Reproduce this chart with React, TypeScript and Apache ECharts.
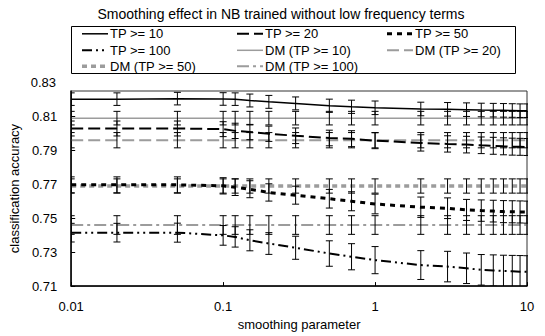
import React, { useEffect, useRef } from "react";
import * as echarts from "echarts";

const titleText = "Smoothing effect in NB trained without low frequency terms";
const xName = "smoothing parameter";
const yName = "classification accuracy";

const xs = [0.01, 0.02, 0.05, 0.1, 0.12, 0.15, 0.2, 0.3, 0.5, 0.7, 1, 2, 3, 4, 5, 6, 7, 8, 9, 10];
const xTicks = ["0.01", "0.1", "1", "10"];
const yTicks = ["0.71", "0.73", "0.75", "0.77", "0.79", "0.81", "0.83"];

const tp10 = [0.8202, 0.8202, 0.8205, 0.8203, 0.8202, 0.8194, 0.8186, 0.8177, 0.8163, 0.8157, 0.8151, 0.8144, 0.8142, 0.814, 0.8138, 0.8137, 0.8136, 0.8135, 0.8134, 0.8134];
const tp20 = [0.8029, 0.8029, 0.8029, 0.8025, 0.8015, 0.8008, 0.7998, 0.7986, 0.7973, 0.7969, 0.7957, 0.7944, 0.7938, 0.7934, 0.793, 0.7927, 0.7924, 0.7922, 0.7921, 0.792];
const tp50 = [0.7697, 0.7697, 0.7697, 0.7691, 0.7683, 0.7671, 0.7652, 0.7636, 0.7615, 0.76, 0.7584, 0.7565, 0.7559, 0.7549, 0.7545, 0.7542, 0.7539, 0.7538, 0.7537, 0.7536];
const tp100 = [0.7415, 0.7415, 0.7415, 0.7399, 0.739, 0.737, 0.7351, 0.7326, 0.7292, 0.7273, 0.7253, 0.7224, 0.7215, 0.7205, 0.7196, 0.7192, 0.7189, 0.7187, 0.7185, 0.7184];
const dm10 = [0.809, 0.809, 0.809, 0.809, 0.809, 0.809, 0.809, 0.809, 0.809, 0.809, 0.809, 0.809, 0.809, 0.809, 0.809, 0.809, 0.809, 0.809, 0.809, 0.809];
const dm20 = [0.796, 0.796, 0.796, 0.796, 0.796, 0.796, 0.796, 0.796, 0.796, 0.796, 0.796, 0.796, 0.796, 0.796, 0.796, 0.796, 0.796, 0.796, 0.796, 0.796];
const dm50 = [0.769, 0.769, 0.769, 0.769, 0.769, 0.769, 0.769, 0.769, 0.769, 0.769, 0.769, 0.769, 0.769, 0.769, 0.769, 0.769, 0.769, 0.769, 0.769, 0.769];
const dm100 = [0.746, 0.746, 0.746, 0.746, 0.746, 0.746, 0.746, 0.746, 0.746, 0.746, 0.746, 0.746, 0.746, 0.746, 0.746, 0.746, 0.746, 0.746, 0.746, 0.746];

const tp10Err = [0.0037, 0.0037, 0.0037, 0.0037, 0.0037, 0.0038, 0.0038, 0.0038, 0.0039, 0.0039, 0.004, 0.004, 0.004, 0.004, 0.004, 0.004, 0.004, 0.004, 0.004, 0.004];
const tp20Err = [0.0044, 0.0044, 0.0044, 0.0044, 0.0045, 0.0045, 0.0045, 0.0046, 0.0046, 0.0047, 0.0047, 0.0048, 0.0048, 0.0049, 0.0049, 0.005, 0.005, 0.005, 0.005, 0.005];
const tp50Err = [0.0047, 0.0047, 0.0047, 0.0048, 0.0049, 0.005, 0.0051, 0.0053, 0.0055, 0.0056, 0.0058, 0.006, 0.0061, 0.0062, 0.0063, 0.0064, 0.0065, 0.0065, 0.0065, 0.0065];
const tp100Err = [0.0055, 0.0055, 0.0056, 0.0058, 0.006, 0.0062, 0.0064, 0.0068, 0.0075, 0.0077, 0.008, 0.0085, 0.009, 0.009, 0.009, 0.0092, 0.0093, 0.0094, 0.0095, 0.0095];
const dm10Err = [0.004, 0.004, 0.004, 0.004, 0.004, 0.004, 0.004, 0.004, 0.004, 0.004, 0.004, 0.004, 0.004, 0.004, 0.004, 0.004, 0.004, 0.004, 0.004, 0.004];
const dm20Err = [0.0045, 0.0045, 0.0045, 0.0045, 0.0045, 0.0045, 0.0045, 0.0045, 0.0045, 0.0045, 0.0045, 0.0045, 0.0045, 0.0045, 0.0045, 0.0045, 0.0045, 0.0045, 0.0045, 0.0045];
const dm50Err = [0.0042, 0.0042, 0.0042, 0.0042, 0.0042, 0.0042, 0.0042, 0.0042, 0.0042, 0.0042, 0.0042, 0.0042, 0.0042, 0.0042, 0.0042, 0.0042, 0.0042, 0.0042, 0.0042, 0.0042];
const dm100Err = [0.0055, 0.0055, 0.0055, 0.0055, 0.0055, 0.0055, 0.0055, 0.0055, 0.0055, 0.0055, 0.0055, 0.0055, 0.0055, 0.0055, 0.0055, 0.0055, 0.0055, 0.0055, 0.0055, 0.0055];

const names = ["TP >= 10", "TP >= 20", "TP >= 50", "TP >= 100", "DM (TP >= 10)", "DM (TP >= 20)", "DM (TP >= 50)", "DM (TP >= 100)"];
// legend reading order: three columns, filled row by row
const legendOrder = ["TP >= 10", "TP >= 20", "TP >= 50", "TP >= 100", "DM (TP >= 10)", "DM (TP >= 20)", "DM (TP >= 50)", "DM (TP >= 100)"];

const FONT = "'Liberation Sans', Arial, sans-serif";
const BLACK = "#000000";
const GRAY = "#9c9c9c";

export default function App() {
  const ref = useRef<HTMLDivElement>(null);
  useEffect(() => {
    if (!ref.current) return;
    const chart = echarts.init(ref.current, undefined, { renderer: "svg" });

    const values = [tp10, tp20, tp50, tp100, dm10, dm20, dm50, dm100];
    const errs = [tp10Err, tp20Err, tp50Err, tp100Err, dm10Err, dm20Err, dm50Err, dm100Err];
    const styles: { color: string; width: number; dash: number[] | null }[] = [
      { color: BLACK, width: 1.5, dash: null },
      { color: BLACK, width: 2, dash: [12, 5] },
      { color: BLACK, width: 3, dash: [5, 5] },
      { color: BLACK, width: 2, dash: [10, 4, 2, 4, 2, 4] },
      { color: GRAY, width: 1.5, dash: null },
      { color: GRAY, width: 2, dash: [12, 5] },
      { color: GRAY, width: 3.5, dash: [5, 4] },
      { color: GRAY, width: 2, dash: [12, 4, 3, 4] },
    ];

    const lineSeries = names.map((n, k) => ({
      name: n,
      type: "line",
      data: xs.map((x, i) => [x, values[k][i]]),
      symbol: "none",
      silent: true,
      color: styles[k].color,
      lineStyle: {
        color: styles[k].color,
        width: styles[k].width,
        type: styles[k].dash ? (styles[k].dash as any) : "solid",
      },
      z: k < 4 ? 4 : 3,
    }));

    const errSeries = names.map((n, k) => ({
      name: n + " err",
      type: "custom",
      silent: true,
      clip: true,
      z: 5,
      data: xs.map((x, i) => [x, values[k][i] - errs[k][i], values[k][i] + errs[k][i]]),
      encode: { x: 0, y: [1, 2] },
      renderItem: (params: any, api: any) => {
        const x = api.value(0);
        const p1 = api.coord([x, api.value(1)]);
        const p2 = api.coord([x, api.value(2)]);
        const w = 3.5;
        const st = { stroke: BLACK, lineWidth: 1 };
        return {
          type: "group",
          children: [
            { type: "line", shape: { x1: p1[0], y1: p1[1], x2: p2[0], y2: p2[1] }, style: st },
            { type: "line", shape: { x1: p1[0] - w, y1: p1[1], x2: p1[0] + w, y2: p1[1] }, style: st },
            { type: "line", shape: { x1: p2[0] - w, y1: p2[1], x2: p2[0] + w, y2: p2[1] }, style: st },
          ],
        };
      },
    }));

    // legend drawn as graphic elements (3 columns x 3 rows)
    const colX = [82, 237, 387];
    const rowY = [33.8, 50.3, 66.2];
    const legendEls: any[] = [];
    legendOrder.forEach((n, idx) => {
      const k = names.indexOf(n);
      const c = idx % 3;
      const r = Math.floor(idx / 3);
      const x0 = colX[c];
      const y0 = rowY[r];
      legendEls.push({
        type: "line",
        silent: true,
        shape: { x1: x0, y1: y0, x2: x0 + 26, y2: y0 },
        style: {
          stroke: styles[k].color,
          lineWidth: styles[k].width,
          lineDash: styles[k].dash || undefined,
        },
      });
      legendEls.push({
        type: "text",
        silent: true,
        x: x0 + 28,
        y: y0,
        style: {
          text: n,
          fontFamily: FONT,
          fontSize: 13,
          fill: BLACK,
          verticalAlign: "middle",
          align: "left",
        },
      });
    });

    chart.setOption({
      animation: false,
      title: {
        text: titleText,
        left: 276,
        top: 2,
        textAlign: "center",
        textStyle: { fontFamily: FONT, fontSize: 14, fontWeight: "normal", color: BLACK },
      },
      grid: {
        left: 70,
        right: 18,
        top: 91,
        bottom: 48,
        show: true,
        borderColor: "#333",
        borderWidth: 1,
        backgroundColor: "transparent",
      },
      xAxis: {
        type: "log",
        logBase: 10,
        min: 0.01,
        max: 10,
        name: xName,
        nameLocation: "middle",
        nameGap: 29,
        nameTextStyle: { fontFamily: FONT, fontSize: 13, color: BLACK },
        axisLine: { lineStyle: { color: BLACK, width: 1.5 } },
        axisTick: { inside: true, length: 4, lineStyle: { color: BLACK } },
        splitLine: { show: false },
        axisLabel: {
          fontFamily: FONT,
          fontSize: 13,
          color: BLACK,
          margin: 14,
          formatter: (v: number) => {
            const s = String(Number(v.toPrecision(3)));
            return xTicks.includes(s) ? s : "";
          },
        },
      },
      yAxis: {
        type: "value",
        min: 0.71,
        max: 0.825,
        interval: 0.02,
        name: yName,
        nameLocation: "middle",
        nameGap: 46,
        nameTextStyle: { fontFamily: FONT, fontSize: 13, color: BLACK },
        axisLine: { show: true, lineStyle: { color: BLACK, width: 1.5 } },
        axisTick: { show: true, inside: true, length: 4, lineStyle: { color: BLACK } },
        splitLine: { show: false },
        axisLabel: {
          fontFamily: FONT,
          fontSize: 13,
          color: BLACK,
          margin: 14,
          showMaxLabel: false,
          formatter: (v: number) => {
            const s = v.toFixed(2);
            return yTicks.includes(s) ? s : "";
          },
        },
      },
      graphic: [
        {
          type: "rect",
          silent: true,
          shape: { x: 71.5, y: 26.5, width: 444, height: 47 },
          style: { fill: "none", stroke: BLACK, lineWidth: 1 },
        },
        ...legendEls,
        {
          type: "text",
          silent: true,
          x: 56,
          y: 82.5,
          style: {
            text: yTicks[yTicks.length - 1],
            fontFamily: FONT,
            fontSize: 13,
            fill: BLACK,
            align: "right",
            verticalAlign: "middle",
          },
        },
      ],
      series: [...lineSeries, ...errSeries],
    });

    return () => chart.dispose();
  }, []);

  return (
    <div
      ref={ref}
      style={{ position: "fixed", left: 0, top: 0, width: 545, height: 336, background: "#fff" }}
    />
  );
}
